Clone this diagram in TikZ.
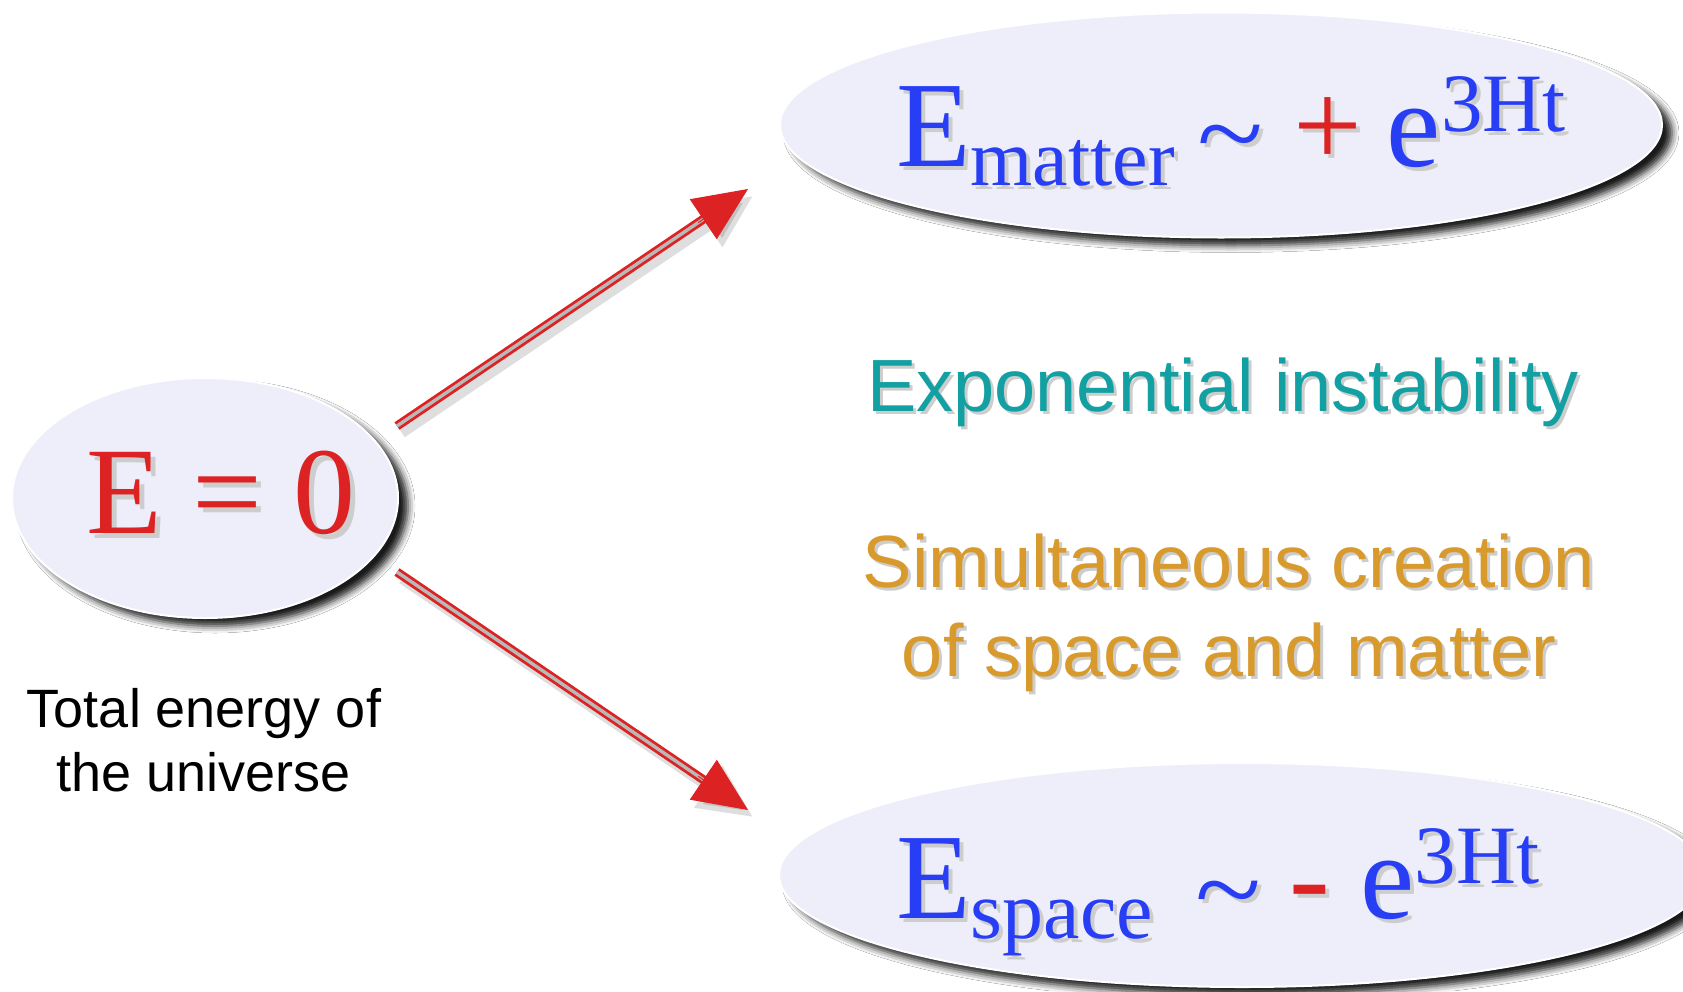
\documentclass[tikz,border=0pt]{standalone}
\usepackage{fontspec}
\setmainfont{Liberation Serif}
\newfontfamily\sansf{Liberation Sans}
\usetikzlibrary{shapes.geometric,arrows.meta,calc,shadows.blur}
\definecolor{ellfill}{RGB}{238,238,250}
\definecolor{fred}{RGB}{220,34,34}
\definecolor{fblue}{RGB}{40,62,245}
\definecolor{fteal}{RGB}{18,160,162}
\definecolor{forange}{RGB}{216,154,44}
\definecolor{shgray}{RGB}{205,205,205}
\definecolor{shaftgray}{RGB}{185,185,185}
\newcommand\ctext[2]{{\color{#1}#2}}
\newcommand\withshadow[2][4pt]{\leavevmode\rlap{\hspace{#1}\raisebox{-#1}{\renewcommand\ctext[2]{{\color{shgray}##2}}\color{shgray}#2}}#2}
\newcommand\bigtilde[1]{\raisebox{#1}{\scalebox{1}[0.9]{\textasciitilde}}}
\tikzset{
  ell/.style={ellipse, fill=ellfill, draw=white, line width=2pt,
    blur shadow={shadow xshift=10pt, shadow yshift=-8pt, shadow blur radius=7pt, shadow opacity=90}},
  formula/.style={text=fblue, inner sep=0pt, anchor=base west, font=\fontsize{122}{122}\selectfont},
  sanstext/.style={inner sep=0pt, anchor=base, align=center},
  shaft/.style={draw=fred, line width=2.8pt, double=shaftgray, double distance=3.4pt},
  head/.style={draw=fred, line width=1pt, -{Triangle[length=54pt,width=48pt]}},
  arrowshadow/.style={draw=black, opacity=0.13, line width=10pt, transform canvas={shift={(5pt,-7pt)}}, -{Triangle[length=54pt,width=48pt]}}
}
\begin{document}
\begin{tikzpicture}[x=1pt,y=-1pt]
\useasboundingbox (0,0) rectangle (1683,991);
\clip (0,0) rectangle (1683,991);
\fill[white] (0,0) rectangle (1683,991);
% ellipses
\node[ell, minimum width=386pt, minimum height=240pt] (e0) at (205,498) {};
\node[ell, minimum width=882pt, minimum height=225pt] (em) at (1221,125) {};
\node[ell, minimum width=926pt, minimum height=224pt] (es) at (1242,875) {};
% texts
\node[inner sep=0pt, anchor=base west, text=fred, font=\fontsize{124}{124}\selectfont] (ez) at (86,533) {\withshadow[5pt]{E = 0}};
\node[formula] (fm) at (896,166) {\withshadow{E\raisebox{-19pt}{\fontsize{80}{80}\selectfont matter}\hspace{22pt}\bigtilde{-4pt}\hspace{30pt}\ctext{fred}{+}\hspace{25pt}e\raisebox{35pt}{\fontsize{83}{83}\selectfont 3Ht}}};
\node[formula] (fs) at (896,918) {\withshadow{E\raisebox{-20pt}{\fontsize{82}{82}\selectfont space}\hspace{43pt}\bigtilde{-8pt}\hspace{28pt}\ctext{fred}{-}\hspace{30pt}e\raisebox{35pt}{\fontsize{83}{83}\selectfont 3Ht}}};
\node[sanstext, text=fteal, font=\sansf\fontsize{74}{89}\selectfont] (ei) at (1223,411) {\withshadow[3pt]{Exponential instability}};
\node[sanstext, text=forange, font=\sansf\fontsize{74}{89}\selectfont] (sc) at (1229,676) {\withshadow[3pt]{Simultaneous creation}\\\withshadow[3pt]{of space and matter}};
\node[sanstext, text=black, font=\sansf\fontsize{54}{64}\selectfont] (te) at (204,791) {Total energy of\\the universe};
% arrows
\coordinate (u0) at (397,426); \coordinate (u1) at (748,189);
\coordinate (d0) at (397,572); \coordinate (d1) at (748,810);
\draw[arrowshadow] (u0) -- (u1);
\draw[arrowshadow] (d0) -- (d1);
\draw[shaft, shorten >=40pt] (u0) -- (u1);
\draw[head] ($(u1)!60pt!(u0)$) -- (u1);
\draw[shaft, shorten >=40pt] (d0) -- (d1);
\draw[head] ($(d1)!60pt!(d0)$) -- (d1);
\end{tikzpicture}
\end{document}
